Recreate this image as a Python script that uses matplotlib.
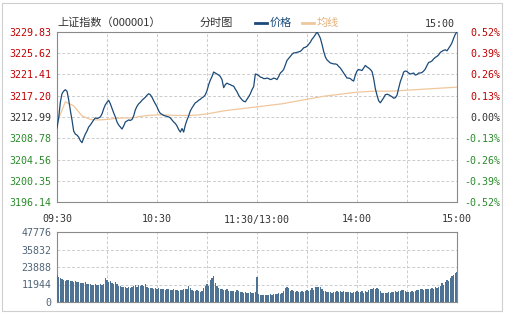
import numpy as np
import matplotlib
matplotlib.use("Agg")
import matplotlib.pyplot as plt
from matplotlib.lines import Line2D
from matplotlib.patches import Rectangle

plt.rcParams['font.family'] = ['Noto Sans CJK SC', 'DejaVu Sans']

# 上证指数 分时数据 (每分钟, 09:30-11:30 共121点, 13:01-15:00 共120点)
price = [
    3210.8, 3212.8, 3215.9, 3217.6, 3218.1, 3218.4, 3218.1, 3216.4, 3214.3, 3212.4,
    3210.2, 3209.6, 3209.4, 3209.0, 3208.3, 3207.9, 3208.8, 3209.6, 3210.2, 3211.0,
    3211.4, 3211.9, 3212.4, 3212.8, 3212.7, 3212.8, 3213.0, 3213.6, 3214.6, 3215.4,
    3215.9, 3216.3, 3215.6, 3214.7, 3213.8, 3213.0, 3212.0, 3211.4, 3211.0, 3210.6,
    3211.2, 3212.0, 3212.2, 3212.4, 3212.3, 3212.5, 3213.2, 3214.4, 3215.1, 3215.6,
    3215.9, 3216.3, 3216.6, 3216.9, 3217.3, 3217.6, 3217.4, 3216.9, 3216.2, 3215.6,
    3215.0, 3214.2, 3213.7, 3213.5, 3213.3, 3213.2, 3213.1, 3213.0, 3212.8, 3212.4,
    3212.0, 3211.7, 3211.2, 3210.5, 3210.0, 3210.7, 3210.0, 3211.4, 3212.4, 3213.2,
    3214.2, 3214.8, 3215.3, 3215.8, 3216.0, 3216.3, 3216.5, 3216.8, 3217.0, 3217.4,
    3218.2, 3219.4, 3220.3, 3221.0, 3221.9, 3221.7, 3221.5, 3221.3, 3221.0, 3220.4,
    3218.8, 3219.4, 3219.7, 3219.5, 3219.4, 3219.2, 3219.1, 3218.5, 3218.0, 3217.3,
    3216.8, 3216.4, 3216.1, 3216.0, 3216.5, 3217.0, 3217.6, 3218.4, 3219.0, 3221.5,
    3221.4,
    3221.2, 3220.9, 3220.8, 3220.6, 3220.6, 3220.7, 3220.6, 3220.4, 3220.5, 3220.7,
    3220.6, 3220.4, 3221.0, 3221.7, 3222.0, 3222.4, 3223.3, 3224.2, 3224.6, 3225.0,
    3225.4, 3225.7, 3225.7, 3225.8, 3225.9, 3226.0, 3226.3, 3226.7, 3226.8, 3227.0,
    3227.4, 3227.8, 3228.4, 3228.8, 3229.3, 3229.8, 3229.3, 3228.6, 3227.4, 3226.0,
    3224.9, 3224.3, 3224.0, 3223.7, 3223.6, 3223.5, 3223.5, 3223.4, 3223.0, 3222.7,
    3222.2, 3221.7, 3221.2, 3220.7, 3220.7, 3220.6, 3220.3, 3220.1, 3221.3, 3222.1,
    3222.4, 3222.3, 3222.2, 3222.7, 3223.2, 3222.9, 3222.7, 3222.4, 3222.0, 3220.6,
    3218.6, 3217.3, 3216.2, 3215.8, 3216.3, 3216.8, 3217.4, 3217.5, 3217.4, 3217.2,
    3217.0, 3216.7, 3216.8, 3217.3, 3218.7, 3220.0, 3220.9, 3221.9, 3222.1, 3222.0,
    3221.7, 3221.5, 3221.6, 3221.7, 3221.3, 3221.4, 3221.7, 3221.7, 3221.8, 3222.1,
    3222.5, 3223.2, 3223.8, 3223.9, 3224.1, 3224.5, 3224.8, 3225.0, 3225.3, 3225.8,
    3226.0, 3226.2, 3226.3, 3226.1, 3226.6, 3227.1, 3227.7, 3228.6, 3229.4, 3229.83,
]

# 均线, 每5分钟读一个值
avg_minute = list(range(0, 241, 5))
avg_price = [
    3211.8, 3216.0, 3215.2, 3213.2, 3212.5, 3212.4, 3212.5, 3212.7, 3212.8, 3212.8,
    3213.1, 3213.3, 3213.4, 3213.4, 3213.3, 3213.3, 3213.3, 3213.4, 3213.6, 3213.9,
    3214.2, 3214.4, 3214.6, 3214.8, 3215.0, 3215.2, 3215.4, 3215.6, 3215.9, 3216.2,
    3216.5, 3216.8, 3217.1, 3217.3, 3217.5, 3217.7, 3217.9, 3218.0, 3218.1, 3218.1,
    3218.1, 3218.2, 3218.3, 3218.4, 3218.5, 3218.6, 3218.7, 3218.8, 3218.9,
]

volume = [
    18400, 17300, 16500, 15800, 15000, 14600, 15200, 14800, 14000, 14200,
    13800, 14500, 13600, 13400, 13000, 12800, 13200, 13600, 12400, 12000,
    12600, 11800, 11500, 12200, 11600, 11400, 12000, 11800, 12400, 16200,
    14800, 13800, 14200, 13000, 12600, 13400, 12200, 11200, 10600, 10400,
    10200, 10000, 9800, 10400, 9800, 10200, 10600, 11400, 10400, 11800,
    10800, 11600, 11000, 12000, 10400, 9800, 9600, 9400, 9200, 9600,
    9000, 9400, 9000, 8600, 8800, 8400, 8600, 8800, 8200, 8400,
    8600, 8000, 8400, 7800, 8200, 8000, 8600, 8800, 9200, 11200,
    9600, 8400, 7800, 7600, 8000, 7400, 7000, 7200, 9600, 11000,
    12400, 10600, 14800, 16400, 18000, 13000, 11000, 9400, 9000, 8800,
    8400, 8000, 8800, 7600, 7200, 7400, 7800, 7000, 8400, 7600,
    7000, 6600, 6400, 7000, 6400, 6200, 6800, 6000, 6400, 6600,
    17400,
    5200, 4800, 5000, 4800, 4900, 4800, 5000, 5200, 5000, 5400,
    5200, 5600, 6000, 5800, 6400, 7600, 9800, 10200, 9600, 7400,
    8000, 7200, 7000, 7400, 7000, 6800, 7200, 6600, 7400, 8000,
    7600, 8400, 9400, 8200, 10200, 10400, 10000, 10200, 9000, 7600,
    7200, 6800, 7000, 6600, 6400, 7000, 6800, 7400, 7000, 7200,
    6800, 7400, 7000, 6600, 7000, 6800, 6400, 7000, 6600, 7200,
    6800, 7000, 7200, 6400, 7600, 7000, 8400, 8800, 9200, 9600,
    9000, 9400, 8600, 7200, 6400, 6000, 6200, 6400, 6600, 6400,
    6600, 7000, 7200, 7000, 7400, 7800, 8200, 8400, 7200, 6800,
    6600, 7000, 7400, 6800, 7600, 8200, 8000, 8600, 8800, 8400,
    8800, 8600, 9000, 8800, 9400, 9200, 10000, 9800, 10400, 11000,
    12800, 11600, 13600, 15200, 14400, 16400, 17600, 18600, 19800, 20600,
]

price_ticks = [3196.14, 3200.35, 3204.56, 3208.78, 3212.99, 3217.20, 3221.41, 3225.62, 3229.83]
pct_labels = ['-0.52%', '-0.39%', '-0.26%', '-0.13%', '0.00%', '0.13%', '0.26%', '0.39%', '0.52%']
vol_ticks = [0, 11944, 23888, 35832, 47776]
time_ticks = [0, 60, 120, 180, 240]
time_labels = ['09:30', '10:30', '11:30/13:00', '14:00', '15:00']

W, H = 508, 315
RED, GREEN, DARK = '#c00000', '#2a8a2a', '#333333'
BLUE, TAN = '#1b4a78', '#efc79c'
mono = 'DejaVu Sans Mono'

fig = plt.figure(figsize=(W / 100, H / 100), dpi=100)
fig.patches.append(Rectangle((1.5 / W, 1 - 311 / H), 500 / W, 308 / H, transform=fig.transFigure,
                             fill=False, edgecolor='#cfcfcf', linewidth=0.8))


def px(x0, y0, x1, y1):
    return [x0 / W, 1 - y1 / H, (x1 - x0) / W, (y1 - y0) / H]


ax = fig.add_axes(px(57, 32, 457, 202))
vax = fig.add_axes(px(57, 232, 457, 302))

minutes = np.arange(len(price))
ax.plot(minutes, price, color=BLUE, lw=0.9, zorder=3)
ax.plot(avg_minute, avg_price, color=TAN, lw=0.9, zorder=2)
ax.set_xlim(0, 240)
ax.set_ylim(price_ticks[0], price_ticks[-1])

grid_ticks = list(range(0, 241, 30))
for a in (ax, vax):
    a.set_xticks(grid_ticks)
    a.grid(True, color='#cccccc', linestyle=(0, (3, 2)), linewidth=0.7)
    a.tick_params(length=0)
    for s in a.spines.values():
        s.set_color('#8a8a8a')
        s.set_linewidth(0.8)

ax.set_xticklabels([time_labels[time_ticks.index(t)] if t in time_ticks else '' for t in grid_ticks],
                   fontfamily=mono, fontsize=7.2, color=DARK)
ax.tick_params(axis='x', pad=9)
ax.set_yticks(price_ticks)
ax.set_yticklabels([f'{v:.2f}' for v in price_ticks], fontfamily=mono, fontsize=7.2)
ax.tick_params(axis='y', pad=4)
for v, lab in zip(price_ticks, ax.get_yticklabels()):
    lab.set_color(RED if v > 3212.99 else (GREEN if v < 3212.99 else DARK))

rax = ax.twinx()
rax.set_ylim(ax.get_ylim())
rax.set_yticks(price_ticks)
rax.set_yticklabels(pct_labels, fontfamily=mono, fontsize=7.2)
rax.tick_params(axis='y', length=0, pad=31)
for s in rax.spines.values():
    s.set_visible(False)
for v, lab in zip(price_ticks, rax.get_yticklabels()):
    lab.set_horizontalalignment('right')
    lab.set_color(RED if v > 3212.99 else (GREEN if v < 3212.99 else DARK))

vax.bar(minutes, volume, width=0.75, color='#4e7294', zorder=3)
vax.set_xlim(0, 240)
vax.set_ylim(0, vol_ticks[-1])
vax.set_xticklabels([])
vax.set_yticks(vol_ticks)
vax.set_yticklabels([str(v) for v in vol_ticks], fontfamily=mono, fontsize=7.2, color='#506478')
vax.tick_params(axis='y', pad=4)

ty = 1 - 23 / H
fig.text(57 / W, ty, '上证指数（000001）', fontsize=8, color=DARK, va='center')
fig.text(200 / W, ty, '分时图', fontsize=8, color=DARK, va='center')
fig.lines.append(Line2D([255 / W, 267 / W], [ty, ty], color=BLUE, lw=2, transform=fig.transFigure))
fig.text(270 / W, ty, '价格', fontsize=8, color=BLUE, va='center')
fig.lines.append(Line2D([302 / W, 314 / W], [ty, ty], color=TAN, lw=2, transform=fig.transFigure))
fig.text(317 / W, ty, '均线', fontsize=8, color='#e6b07a', va='center')
fig.text(455 / W, 1 - 24 / H, '15:00', fontsize=7.2, fontfamily=mono, color=DARK, va='center', ha='right')

fig.savefig('out.png', dpi=100)
